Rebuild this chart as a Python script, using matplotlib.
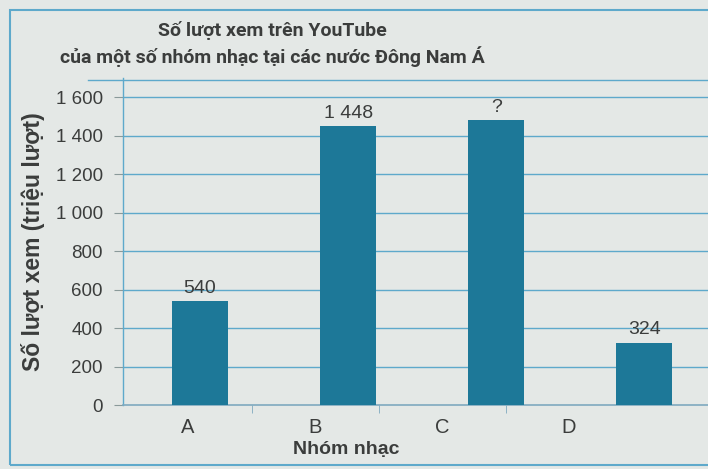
import matplotlib
matplotlib.use("Agg")
import matplotlib.pyplot as plt
from matplotlib.lines import Line2D
from matplotlib.patches import Rectangle

plt.rcParams['font.family'] = ['Liberation Sans', 'DejaVu Sans']

categories = ['A', 'B', 'C', 'D']
values = [540, 1448, 1480, 324]
bar_labels = ['540', '1 448', '?', '324']
y_ticks = [0, 200, 400, 600, 800, 1000, 1200, 1400, 1600]
y_tick_labels = ['0', '200', '400', '600', '800', '1 000', '1 200', '1 400', '1 600']
title_lines = ['Số lượt xem trên YouTube', 'của một số nhóm nhạc tại các nước Đông Nam Á']
x_label = 'Nhóm nhạc'
y_label = 'Số lượt xem (triệu lượt)'

bg = '#e4e8e6'
text_c = '#3b3d3c'
bar_c = '#1d7898'
grid_c = '#5ea9cb'

fig = plt.figure(figsize=(7.08, 4.69), dpi=100, facecolor=bg)
ax = fig.add_axes([123/708, 64/469, 585/708, 327/469])
ax.set_facecolor(bg)

x = list(range(len(categories)))
ax.bar(x, values, width=0.38, color=bar_c, zorder=3)
for xi, v, lab in zip(x, values, bar_labels):
    ax.text(xi, v + 22, lab, ha='center', va='bottom', fontsize=14, color=text_c, zorder=4)

ax.set_xlim(-0.52, 3.43)
ax.set_ylim(0, 1700)
ax.set_yticks(y_ticks)
ax.set_yticklabels(y_tick_labels, fontsize=13.5, color=text_c)
ax.set_xticks([])
ax.tick_params(axis='y', length=6.5, color='#8a9a9a', pad=8)

for yt in y_ticks[1:]:
    ax.axhline(yt, color=grid_c, linewidth=1.0, zorder=1)

for s in ['top', 'right']:
    ax.spines[s].set_visible(False)
ax.spines['left'].set_color(grid_c)
ax.spines['left'].set_linewidth(1.0)
ax.spines['bottom'].set_color('#7fa9bf')
ax.spines['bottom'].set_linewidth(1.2)

ax.set_ylabel(y_label, fontsize=16.5, fontweight='bold', color=text_c, labelpad=8)

# category labels and ticks as printed (their own spacing in the reference)
axl = ax.twiny()
axl.xaxis.set_ticks_position('bottom')
axl.xaxis.set_label_position('bottom')
axl.set_xlim(-0.512, 4.094)
axl.set_xticks(x)
axl.set_xticklabels(categories, fontsize=14.5, color=text_c)
axl.set_xticks([0.5, 1.5, 2.5], minor=True)
axl.tick_params(axis='x', which='major', length=0, pad=9)
axl.tick_params(axis='x', which='minor', length=6, color='#7fa9bf', direction='out')
for s in axl.spines.values():
    s.set_visible(False)
axl.set_xlabel(x_label, fontsize=14, fontweight='bold', color=text_c)
axl.xaxis.set_label_coords((346 - 123) / 585, -0.11)

title_font = ['Roboto', 'Liberation Sans', 'DejaVu Sans']
fig.text(272/708, 1 - 30/469, title_lines[0], ha='center', va='center', fontsize=14,
         fontweight='bold', color=text_c, family=title_font)
fig.text(272/708, 1 - 57/469, title_lines[1], ha='center', va='center', fontsize=14,
         fontweight='bold', color=text_c, family=title_font)

# top separator line and frame
fig.add_artist(Line2D([88/708, 1.0], [1 - 80/469, 1 - 80/469], color=grid_c, linewidth=1.0))
fig.add_artist(Rectangle((10/708, 1 - 465/469), 720/708, 455/469, fill=False,
                         edgecolor=grid_c, linewidth=1.5, transform=fig.transFigure))

fig.savefig('out.png', dpi=100, facecolor=bg)
